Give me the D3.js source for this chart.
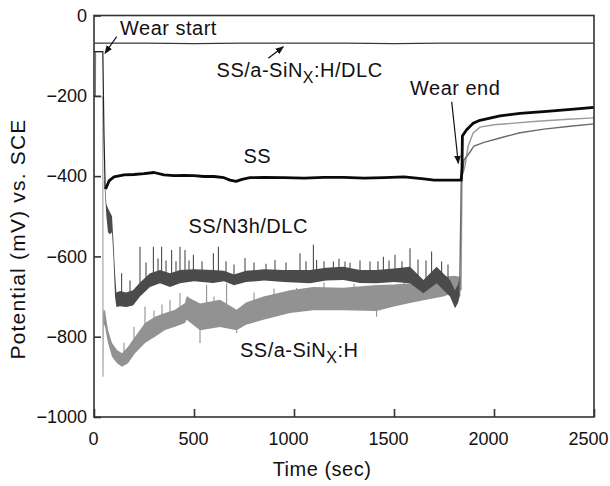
<!DOCTYPE html>
<html>
<head>
<meta charset="utf-8">
<script src="https://cdn.jsdelivr.net/npm/d3@7"></script>
<style>
  body { margin: 0; background: #fff; }
  text { font-family: "Liberation Sans", Arial, sans-serif; fill: #111; }
</style>
</head>
<body>
<div id="chart"></div>
<script>
// time (sec), potential (mV)
var xTicks = [0, 500, 1000, 1500, 2000, 2500];
var yTicks = [0, -200, -400, -600, -800, -1000];

// SS/a-SiNx:H/DLC - stays flat
var dlcTop = [[0, -69], [250, -69], [500, -70], [750, -69], [1000, -69], [1250, -69],
  [1500, -70], [1750, -69], [2000, -69], [2250, -69], [2500, -69]];

// SS (black): start of wear drawn thin, the rest heavy
var ssPre = [[0, -90], [44, -90], [50, -300], [56, -432]];
var ssLine = [[56, -432], [62, -428], [75, -412], [100, -402], [150, -397], [200, -396],
  [250, -394], [300, -391], [350, -397], [400, -399], [450, -398], [500, -399], [550, -401],
  [600, -401], [650, -404], [680, -410], [710, -413], [740, -408], [780, -404], [850, -403],
  [950, -404], [1050, -405], [1150, -403], [1250, -403], [1350, -405], [1450, -404],
  [1550, -402], [1650, -407], [1700, -410], [1780, -410], [1836, -410], [1840, -380],
  [1842, -300], [1862, -285], [1897, -268], [1930, -261], [2030, -250], [2130, -244],
  [2280, -238], [2400, -233], [2500, -229]];

// SS/N3h/DLC (dark grey): before wear, noisy band [t, low, high], recovery
var n3hPre = [[0, -200], [7, -200], [8, -90], [45, -90]];
var n3hBand = [[45, -92, -88], [52, -420, -400], [62, -500, -470], [70, -540, -480],
  [80, -545, -490], [90, -540, -500], [97, -600, -560], [105, -700, -640], [112, -726, -690],
  [130, -724, -686], [160, -726, -690], [195, -722, -684], [230, -700, -665], [280, -676, -642],
  [330, -667, -634], [380, -676, -642], [430, -667, -634], [500, -662, -632], [595, -666, -634],
  [650, -662, -636], [700, -672, -645], [760, -664, -636], [850, -660, -632], [950, -664, -634],
  [1080, -667, -634], [1160, -660, -628], [1247, -659, -626], [1330, -666, -634],
  [1413, -667, -634], [1500, -664, -630], [1580, -667, -626], [1647, -692, -659],
  [1713, -667, -626], [1780, -700, -659], [1805, -729, -684], [1820, -716, -670],
  [1828, -700, -650]];
var n3hSpikes = [[138, -642], [180, -660], [230, -576], [260, -615], [297, -576], [320, -605],
  [338, -576], [360, -610], [388, -584], [410, -612], [430, -576], [455, -584], [475, -610],
  [497, -596], [540, -612], [597, -592], [622, -576], [660, -612], [700, -620], [755, -604],
  [800, -615], [860, -618], [905, -609], [960, -615], [1030, -592], [1060, -612], [1097, -571],
  [1113, -609], [1150, -612], [1197, -613], [1225, -606], [1255, -613], [1280, -616],
  [1330, -610], [1380, -613], [1420, -612], [1447, -601], [1475, -610], [1505, -596],
  [1540, -612], [1580, -580], [1620, -608], [1660, -610], [1688, -588], [1738, -613],
  [1770, -620]];
var n3hPost = [[1828, -700], [1836, -420], [1850, -360], [1880, -340], [1900, -325],
  [1950, -316], [2030, -305], [2130, -292], [2250, -283], [2380, -276], [2500, -270]];

// SS/a-SiNx:H (light grey)
var sinPre = [[0, -203], [44, -203], [45, -900], [47, -740]];
var sinBand = [[47, -766, -733], [55, -775, -735], [70, -816, -783], [90, -850, -816],
  [115, -866, -833], [140, -875, -841], [170, -866, -825], [205, -841, -800], [255, -816, -766],
  [305, -800, -750], [355, -783, -741], [405, -775, -733], [455, -766, -716], [463, -758, -700],
  [530, -784, -717], [630, -776, -708], [713, -784, -733], [760, -770, -715], [847, -758, -700],
  [980, -741, -684], [1097, -734, -676], [1247, -734, -678], [1413, -736, -671],
  [1500, -725, -670], [1580, -716, -667], [1680, -706, -658], [1747, -700, -651],
  [1800, -690, -648], [1835, -684, -651]];
var sinSpikes = [[150, -815], [200, -775], [255, -725], [300, -735], [340, -720], [380, -708],
  [430, -691], [470, -700], [530, -816], [563, -671], [600, -700], [663, -667], [713, -791],
  [800, -690], [900, -680], [1013, -679], [1150, -665], [1300, -668], [1413, -750],
  [1550, -655], [1700, -645]];
var sinPost = [[1835, -684], [1840, -400], [1855, -376], [1870, -327], [1895, -293],
  [1930, -278], [2000, -272], [2200, -264], [2350, -259], [2500, -255]];

var svg = d3.select("#chart").append("svg").attr("width", 610).attr("height", 486);

var x = d3.scaleLinear().domain([0, 2500]).range([94, 594]);
var y = d3.scaleLinear().domain([-1000, 0]).range([417, 15.5]);

var line = d3.line()
    .x(function (d) { return x(d[0]); })
    .y(function (d) { return y(d[1]); });

var band = d3.area()
    .x(function (d) { return x(d[0]); })
    .y0(function (d) { return y(d[1]); })
    .y1(function (d) { return y(d[2]); });

var darkGrey = "#4b4b4b", lightGrey = "#929292";

function drawSpikes(spikes, rows, color) {
    spikes.forEach(function (s) {
        // base of each spike = middle of the nearest band row
        var row = rows.reduce(function (a, b) {
            return Math.abs(b[0] - s[0]) < Math.abs(a[0] - s[0]) ? b : a;
        });
        svg.append("line")
            .attr("x1", x(s[0])).attr("x2", x(s[0]))
            .attr("y1", y((row[1] + row[2]) / 2)).attr("y2", y(s[1]))
            .attr("stroke", color).attr("stroke-width", 1.1);
    });
}

// light grey series
svg.append("path").datum(sinPre).attr("d", line)
    .attr("fill", "none").attr("stroke", "#a8a8a8").attr("stroke-width", 1.2);
svg.append("path").datum(sinBand).attr("d", band).attr("fill", lightGrey);
drawSpikes(sinSpikes, sinBand, lightGrey);
svg.append("path").datum(sinPost).attr("d", line)
    .attr("fill", "none").attr("stroke", "#9a9a9a").attr("stroke-width", 1.4);

// dark grey series
svg.append("path").datum(n3hPre).attr("d", line)
    .attr("fill", "none").attr("stroke", "#777").attr("stroke-width", 1.1);
svg.append("path").datum(n3hBand).attr("d", band).attr("fill", darkGrey);
drawSpikes(n3hSpikes, n3hBand, darkGrey);
svg.append("path").datum(n3hPost).attr("d", line)
    .attr("fill", "none").attr("stroke", "#6a6a6a").attr("stroke-width", 1.4);

// top DLC line
svg.append("path").datum(dlcTop).attr("d", line)
    .attr("fill", "none").attr("stroke", "#3a3a3a").attr("stroke-width", 1.3);

// SS black
svg.append("path").datum(ssPre).attr("d", line)
    .attr("fill", "none").attr("stroke", "#222").attr("stroke-width", 1.2);
svg.append("path").datum(ssLine).attr("d", line)
    .attr("fill", "none").attr("stroke", "#0a0a0a").attr("stroke-width", 2.8)
    .attr("stroke-linejoin", "round");

// frame
svg.append("rect")
    .attr("x", x(0)).attr("y", y(0))
    .attr("width", x(2500) - x(0)).attr("height", y(-1000) - y(0))
    .attr("fill", "none").attr("stroke", "#333").attr("stroke-width", 1.6);

var xAxis = d3.axisBottom(x).tickValues(xTicks).tickSize(-8).tickPadding(15).tickFormat(d3.format("d"));
var yAxis = d3.axisLeft(y).tickValues(yTicks).tickSize(-7).tickPadding(7).tickFormat(d3.format("d"));

var gx = svg.append("g").attr("transform", "translate(0," + y(-1000) + ")").call(xAxis);
var gy = svg.append("g").attr("transform", "translate(" + x(0) + ",0)").call(yAxis);
[gx, gy].forEach(function (g) {
    g.select(".domain").remove();
    g.selectAll("line").attr("stroke", "#333").attr("stroke-width", 1.6);
    g.selectAll("text").attr("font-size", 18).attr("fill", "#111")
        .style("font-family", "'Liberation Sans', Arial, sans-serif");
});
gx.selectAll("text").attr("dx", function (d) { return d >= 1000 ? -6 : -1; });

// axis titles
svg.append("text")
    .attr("x", 322).attr("y", 476)
    .attr("text-anchor", "middle").attr("font-size", 20).attr("letter-spacing", 0.5)
    .text("Time (sec)");
svg.append("text")
    .attr("transform", "translate(25,239) rotate(-90)")
    .attr("text-anchor", "middle").attr("font-size", 21).attr("letter-spacing", 1.2)
    .text("Potential (mV) vs. SCE");

// annotations
function label(t, v, parts) {
    var tx = svg.append("text")
        .attr("x", x(t)).attr("y", y(v))
        .attr("font-size", 20).attr("letter-spacing", 0.5);
    parts.forEach(function (p) {
        if (p.sub) {
            tx.append("tspan").attr("font-size", 16).attr("dy", 6).text(p.text);
        } else {
            tx.append("tspan").attr("dy", p.after ? -6 : 0).text(p.text);
        }
    });
}
label(130, -49, [{ text: "Wear start" }]);
label(613, -152, [{ text: "SS/a-SiN" }, { text: "X", sub: true }, { text: ":H/DLC", after: true }]);
label(1580, -198, [{ text: "Wear end" }]);
label(747, -368, [{ text: "SS" }]);
label(472, -542, [{ text: "SS/N3h/DLC" }]);
label(730, -850, [{ text: "SS/a-SiN" }, { text: "X", sub: true }, { text: ":H", after: true }]);

svg.append("defs").append("marker")
    .attr("id", "head").attr("viewBox", "0 0 10 10")
    .attr("refX", 9).attr("refY", 5)
    .attr("markerWidth", 7).attr("markerHeight", 7)
    .attr("orient", "auto")
    .append("path").attr("d", "M0,1 L10,5 L0,9 z").attr("fill", "#111");

var arrows = [
    [[113.5, -52.8], [55, -94]],
    [[871.5, -106.6], [946.5, -77.7]],
    [[1788.5, -214.7], [1821.5, -368]]
];
arrows.forEach(function (a) {
    svg.append("line")
        .attr("x1", x(a[0][0])).attr("y1", y(a[0][1]))
        .attr("x2", x(a[1][0])).attr("y2", y(a[1][1]))
        .attr("stroke", "#111").attr("stroke-width", 1.2)
        .attr("marker-end", "url(#head)");
});
</script>
</body>
</html>
